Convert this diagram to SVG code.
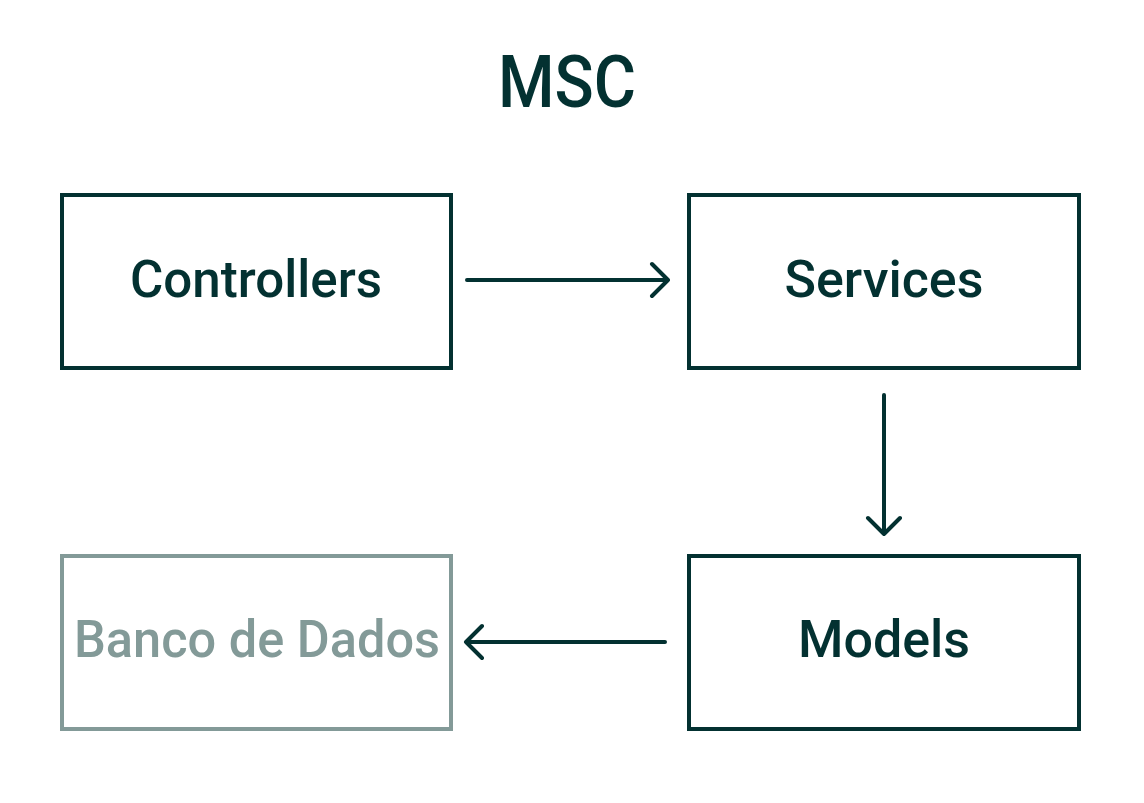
<svg xmlns="http://www.w3.org/2000/svg" width="1144" height="803" viewBox="0 0 1144 803">
<style>
.box{fill:#fff;stroke:#033131;stroke-width:4}
.box.dim{stroke:#839a98}
.lbl{font-family:Roboto,"Liberation Sans",sans-serif;font-weight:500;font-size:52px;fill:#033131;text-anchor:middle}
.lbl.dim{fill:#839a98}
.title{font-family:Roboto,"Liberation Sans",sans-serif;font-weight:500;font-size:72px;fill:#033131;text-anchor:middle}
.conn{fill:none;stroke:#033131;stroke-width:4;stroke-linecap:round;stroke-linejoin:round}
</style>
<rect width="1144" height="803" fill="#fff"/>
<text class="title" x="567" y="107" textLength="138" lengthAdjust="spacingAndGlyphs">MSC</text>
<g id="controllers">
<rect class="box" x="62" y="195" width="389" height="173"/>
<text class="lbl" x="256" y="297" textLength="252" lengthAdjust="spacingAndGlyphs">Controllers</text>
</g>
<g id="services">
<rect class="box" x="689" y="195" width="390" height="173"/>
<text class="lbl" x="884" y="297">Services</text>
</g>
<g id="models">
<rect class="box" x="689" y="556" width="390" height="173"/>
<text class="lbl" x="884" y="657">Models</text>
</g>
<g id="banco">
<rect class="box dim" x="62" y="556" width="389" height="173"/>
<text class="lbl dim" x="257" y="657" textLength="366" lengthAdjust="spacingAndGlyphs">Banco de Dados</text>
</g>
<g id="connectors">
<path class="conn" d="M467 280H668M652 264L668 280L652 296"/>
<path class="conn" d="M884 395V534M868 518L884 534L900 518"/>
<path class="conn" d="M665 642H466M482 626L466 642L482 658"/>
</g>
</svg>
